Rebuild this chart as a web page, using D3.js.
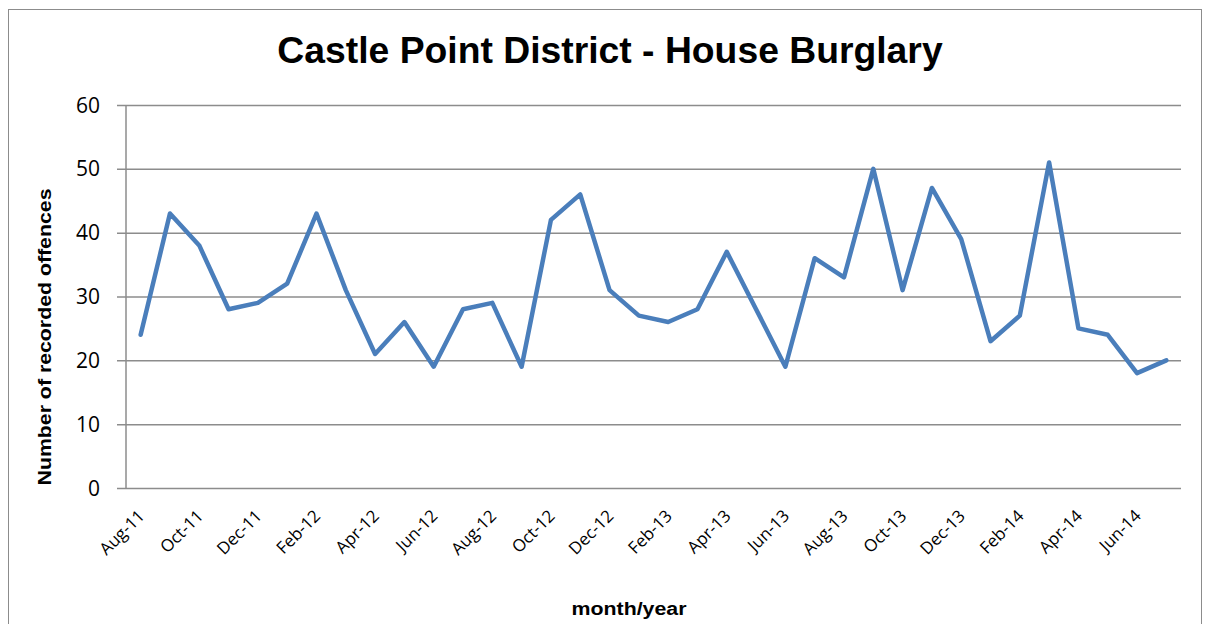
<!DOCTYPE html>
<html>
<head>
<meta charset="utf-8">
<script src="https://cdn.jsdelivr.net/npm/d3@7"></script>
<style>
  body { margin: 0; background: #fff; }
  svg { display: block; }
</style>
</head>
<body>
<div id="chart"></div>
<script>
const months = ['Aug-11','Sep-11','Oct-11','Nov-11','Dec-11','Jan-12','Feb-12','Mar-12','Apr-12','May-12','Jun-12','Jul-12',
  'Aug-12','Sep-12','Oct-12','Nov-12','Dec-12','Jan-13','Feb-13','Mar-13','Apr-13','May-13','Jun-13','Jul-13',
  'Aug-13','Sep-13','Oct-13','Nov-13','Dec-13','Jan-14','Feb-14','Mar-14','Apr-14','May-14','Jun-14','Jul-14'];
const offences = [24,43,38,28,29,32,43,31,21,26,19,28,29,19,42,46,31,27,26,28,37,28,19,36,33,50,31,47,39,23,27,51,25,24,18,20];
const yTicks = [0,10,20,30,40,50,60];

const width = 1206, height = 624;
const margin = {left: 126, right: 25, top: 105, bottom: 136};

const svg = d3.select('#chart').append('svg')
    .attr('width', width)
    .attr('height', height);

// outer frame of the chart
svg.append('rect')
    .attr('x', 8.5).attr('y', 9.5)
    .attr('width', 1193).attr('height', 640)
    .style('fill', 'none')
    .style('stroke', '#8c8c8c')
    .style('stroke-width', 1);

const x = d3.scaleBand()
    .domain(months)
    .range([margin.left, width - margin.right]);

const y = d3.scaleLinear()
    .domain([0, 60])
    .range([height - margin.bottom, margin.top]);

// gridlines with outside ticks
const grid = svg.append('g').attr('transform', `translate(${margin.left},0)`)
    .call(d3.axisLeft(y).tickValues(yTicks).tickSize(-(width - margin.left - margin.right)).tickSizeOuter(0).tickFormat(''));
grid.select('.domain').remove();
grid.selectAll('line')
    .attr('x1', -9)
    .style('stroke', '#8c8c8c')
    .style('stroke-width', 1.5);

// y axis line
svg.append('line')
    .attr('x1', margin.left).attr('x2', margin.left)
    .attr('y1', y(60)).attr('y2', y(0))
    .style('stroke', '#8c8c8c')
    .style('stroke-width', 1.5);

svg.append('g').selectAll('text')
    .data(yTicks)
    .join('text')
    .attr('x', 100)
    .attr('y', d => y(d) + 7.5)
    .attr('text-anchor', 'end')
    .style('font-family', 'Open Sans, sans-serif')
    .style('font-size', '21px')
    .text(d => d);

// x labels, every other month
svg.append('g').selectAll('text')
    .data(months.filter((d, i) => i % 2 === 0))
    .join('text')
    .attr('transform', d => `translate(${x(d) + x.bandwidth() / 2 + 5},${y(0) + 29}) rotate(-45)`)
    .attr('text-anchor', 'end')
    .style('font-family', 'Open Sans, sans-serif')
    .style('font-size', '17px')
    .text(d => d);

const line = d3.line()
    .x((d, i) => x(months[i]) + x.bandwidth() / 2)
    .y(d => y(d));

svg.append('path')
    .datum(offences)
    .attr('d', line)
    .style('fill', 'none')
    .style('stroke', '#4a7ebb')
    .style('stroke-width', 4.5)
    .style('stroke-linejoin', 'round')
    .style('stroke-linecap', 'round');

svg.append('text')
    .attr('x', 610).attr('y', 63)
    .attr('text-anchor', 'middle')
    .style('font-family', 'Liberation Sans, Arial, sans-serif')
    .style('font-weight', 'bold')
    .style('font-size', '37.3px')
    .text('Castle Point District - House Burglary');

svg.append('text')
    .attr('transform', 'translate(51,337) rotate(-90)')
    .attr('text-anchor', 'middle')
    .attr('textLength', 297)
    .attr('lengthAdjust', 'spacingAndGlyphs')
    .style('font-family', 'Liberation Sans, Arial, sans-serif')
    .style('font-weight', 'bold')
    .style('font-size', '18px')
    .text('Number of recorded offences');

svg.append('text')
    .attr('x', 629).attr('y', 615)
    .attr('text-anchor', 'middle')
    .attr('textLength', 115)
    .attr('lengthAdjust', 'spacingAndGlyphs')
    .style('font-family', 'Liberation Sans, Arial, sans-serif')
    .style('font-weight', 'bold')
    .style('font-size', '18px')
    .text('month/year');
</script>
</body>
</html>
